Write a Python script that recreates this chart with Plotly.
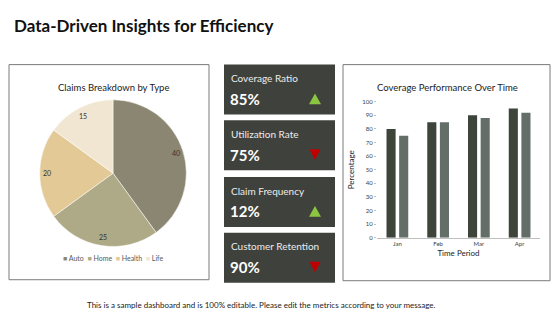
import math
import plotly.graph_objects as go

W, H = 560, 315

# ---- data ----
pie_labels = ["Auto", "Home", "Health", "Life"]
pie_values = [40, 25, 20, 15]
pie_colors = ["#8b8671", "#aeaa87", "#e2c995", "#f1e6d2"]

months = ["Jan", "Feb", "Mar", "Apr"]
series_a = [80, 85, 90, 95]
series_b = [75, 85, 88, 92]
series_names = ["Coverage", "Target"]
bar_colors = ["#3d453a", "#646e68"]

kpi_names = ["Coverage Ratio", "Utilization Rate", "Claim Frequency", "Customer Retention"]
kpi_values = ["85%", "75%", "12%", "90%"]
kpi_up = [True, False, True, False]

FONT = "Lato"

def px(x):
    return x / W

def py(y):
    return 1 - y / H

def ann(text, x, y, size, color, xanchor="center", yanchor="middle"):
    return dict(text=text, x=px(x), y=py(y), xref="paper", yref="paper",
                xanchor=xanchor, yanchor=yanchor, showarrow=False,
                font=dict(family=FONT, size=size, color=color))

fig = go.Figure()

# ---- pie ----
cx, cy, R = 113, 173, 75
fig.add_trace(go.Pie(
    labels=pie_labels, values=pie_values, sort=False,
    direction="clockwise", rotation=0,
    marker=dict(colors=pie_colors, line=dict(color="white", width=0.5)),
    textinfo="none", hoverinfo="label+value",
    domain=dict(x=[px(cx - R), px(cx + R)], y=[py(cy + R), py(cy - R)]),
    showlegend=False,
))

# ---- bars ----
for vals, name, col in zip([series_a, series_b], series_names, bar_colors):
    fig.add_trace(go.Bar(x=months, y=vals, name=name, marker=dict(color=col, line=dict(width=0)),
                         showlegend=False, xaxis="x", yaxis="y"))

shapes = []
annotations = []

# panels
for x0, x1, y0, y1 in [(9, 209, 62, 282), (343, 550, 62, 283)]:
    shapes.append(dict(type="rect", xref="paper", yref="paper", x0=px(x0), x1=px(x1),
                       y0=py(y1), y1=py(y0), line=dict(color="#7a7a7a", width=1), fillcolor="rgba(0,0,0,0)",
                       layer="below"))

# KPI cards
card_top = [62, 119, 177, 234]
card_h = 51
for i, (name, val, up) in enumerate(zip(kpi_names, kpi_values, kpi_up)):
    t = card_top[i]
    shapes.append(dict(type="rect", xref="paper", yref="paper", x0=px(224), x1=px(335),
                       y0=py(t + card_h), y1=py(t), line=dict(width=0), fillcolor="#3f423c", layer="below"))
    annotations.append(ann(name, 229, t + 14, 10, "#ececec", xanchor="left"))
    annotations.append(ann("<b>" + val + "</b>", 228, t + 35, 15, "#ffffff", xanchor="left"))
    tc = t + 35
    if up:
        path = f"M {px(309)} {py(tc + 5.5)} L {px(321)} {py(tc + 5.5)} L {px(315)} {py(tc - 5.5)} Z"
        col = "#8cc540"
    else:
        path = f"M {px(309.5)} {py(tc - 5.5)} L {px(320.5)} {py(tc - 5.5)} L {px(315)} {py(tc + 5.5)} Z"
        col = "#c00000"
    shapes.append(dict(type="path", xref="paper", yref="paper", path=path, fillcolor=col, line=dict(width=0)))

# pie value labels (positions derived from values)
total = sum(pie_values)
cum = 0
for v in pie_values:
    mid = (cum + v / 2) / total * 2 * math.pi
    cum += v
    rr = 0.88 * R
    lx = cx + rr * math.sin(mid)
    ly = cy - rr * math.cos(mid)
    annotations.append(ann(str(v), lx, ly, 7, "#333333"))

# pie legend
leg = "&nbsp;&nbsp;".join(f'<span style="color:{c}">■</span> {l}' for l, c in zip(pie_labels, pie_colors))
annotations.append(ann(leg, 113, 260, 7, "#595959"))

# titles
annotations.append(ann("<b>Data-Driven Insights for Efficiency</b>", 12, 22, 17, "#111111", xanchor="left"))
annotations.append(ann("Claims Breakdown by Type", 113, 85, 9.5, "#222222"))
annotations.append(ann("Coverage Performance Over Time", 447, 85, 9.5, "#222222"))
annotations.append(ann("This is a sample dashboard and is 100% editable. Please edit the metrics according to your message.",
                       261, 308, 8, "#222222"))

fig.update_layout(
    width=W, height=H, margin=dict(l=0, r=0, t=0, b=0),
    paper_bgcolor="white", plot_bgcolor="white",
    barmode="group", bargap=0.38, bargroupgap=0.28,
    shapes=shapes, annotations=annotations,
    xaxis=dict(domain=[px(377), px(540)], anchor="y", showgrid=False, showline=True,
               linecolor="#bfbfbf", linewidth=1, ticks="", tickfont=dict(family=FONT, size=6, color="#404040"),
               title=dict(text="Time Period", font=dict(family=FONT, size=8, color="#222222"), standoff=4)),
    yaxis=dict(domain=[py(239), py(100)], anchor="x", range=[0, 100], dtick=10, showgrid=False,
               showline=False, ticks="outside", ticklen=2, tickcolor="#bfbfbf",
               tickfont=dict(family=FONT, size=6, color="#404040"), zeroline=False,
               title=dict(text="Percentage", font=dict(family=FONT, size=8, color="#222222"), standoff=6)),
    font=dict(family=FONT),
)

fig.write_html("out.html")
